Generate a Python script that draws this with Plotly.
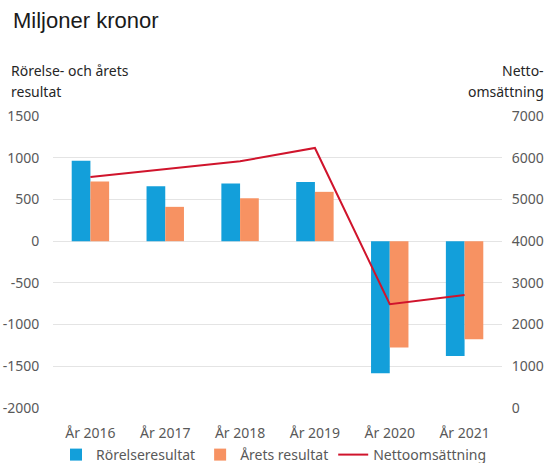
import plotly.graph_objects as go

categories = ["År 2016", "År 2017", "År 2018", "År 2019", "År 2020", "År 2021"]
rorelseresultat = [965, 658, 690, 710, -1583, -1376]
arets_resultat = [716, 411, 514, 591, -1275, -1176]
nettoomsattning = [5540, 5732, 5916, 6234, 2488, 2711]

left_ticks = [-2000, -1500, -1000, -500, 0, 500, 1000, 1500]
left_tick_labels = ["-2000", "-1500", "-1000", "-500", "0", "500", "1000", "1500"]
right_ticks = [0, 1000, 2000, 3000, 4000, 5000, 6000, 7000]
right_tick_labels = ["0", "1000", "2000", "3000", "4000", "5000", "6000", "7000"]

W, H = 548, 463
L, R, T, B = 53, 46, 116, 55
pw, ph = W - L - R, H - T - B

def px(x):
    return (x - L) / pw

def py(y):
    return (H - B - y) / ph

tick_font = dict(family="Noto Sans, sans-serif", size=14, color="#595959")
text_font = dict(family="Noto Sans, sans-serif", size=14, color="#262626")

fig = go.Figure()
fig.add_trace(go.Bar(x=categories, y=rorelseresultat, name="Rörelseresultat",
                     marker=dict(color="#139FDA", line=dict(width=0))))
fig.add_trace(go.Bar(x=categories, y=arets_resultat, name="Årets resultat",
                     marker=dict(color="#F79262", line=dict(width=0))))
fig.add_trace(go.Scatter(x=categories, y=nettoomsattning, name="Nettoomsättning",
                         yaxis="y2", mode="lines",
                         line=dict(color="#D0142C", width=2)))

fig.update_layout(
    width=W, height=H, autosize=False,
    margin=dict(l=L, r=R, t=T, b=B, autoexpand=False),
    paper_bgcolor="white", plot_bgcolor="white",
    barmode="group", bargap=0.5, bargroupgap=0,
    showlegend=True,
    legend=dict(orientation="h", x=px(274), xanchor="center", y=py(455), yanchor="middle",
                font=dict(family="Noto Sans, sans-serif", size=14, color="#595959"),
                traceorder="normal", itemwidth=30),
    xaxis=dict(showgrid=False, showline=False, zeroline=False, tickfont=tick_font,
               ticks="outside", ticklen=12, tickcolor="rgba(0,0,0,0)", automargin=False),
    yaxis=dict(range=[-2000, 1500], tickvals=left_ticks, ticktext=left_tick_labels,
               showgrid=True, gridcolor="#E4E4E4", gridwidth=1, zeroline=False,
               showline=False, tickfont=tick_font, ticks="outside", ticklen=10,
               tickcolor="rgba(0,0,0,0)", automargin=False),
    yaxis2=dict(range=[0, 7000], tickvals=right_ticks, ticktext=right_tick_labels,
                overlaying="y", side="right",
                showgrid=False, zeroline=False, showline=False, tickfont=tick_font,
                ticks="outside", ticklen=6, tickcolor="rgba(0,0,0,0)", automargin=False),
)

fig.add_annotation(text="Miljoner kronor", xref="paper", yref="paper",
                   x=px(11), y=py(20), xanchor="left", yanchor="middle",
                   showarrow=False,
                   font=dict(family="Liberation Sans, Arial, sans-serif", size=22, color="#1a1a1a"))
fig.add_annotation(text="Rörelse- och årets", xref="paper", yref="paper",
                   x=px(9), y=py(71), xanchor="left", yanchor="middle",
                   showarrow=False, font=text_font)
fig.add_annotation(text="resultat", xref="paper", yref="paper",
                   x=px(9), y=py(91), xanchor="left", yanchor="middle",
                   showarrow=False, font=text_font)
fig.add_annotation(text="Netto-", xref="paper", yref="paper",
                   x=px(546), y=py(71), xanchor="right", yanchor="middle",
                   showarrow=False, font=text_font)
fig.add_annotation(text="omsättning", xref="paper", yref="paper",
                   x=px(546), y=py(91), xanchor="right", yanchor="middle",
                   showarrow=False, font=text_font)

fig.write_html("out.html", config={"displayModeBar": False},
               post_script="document.body.style.margin='0';")
